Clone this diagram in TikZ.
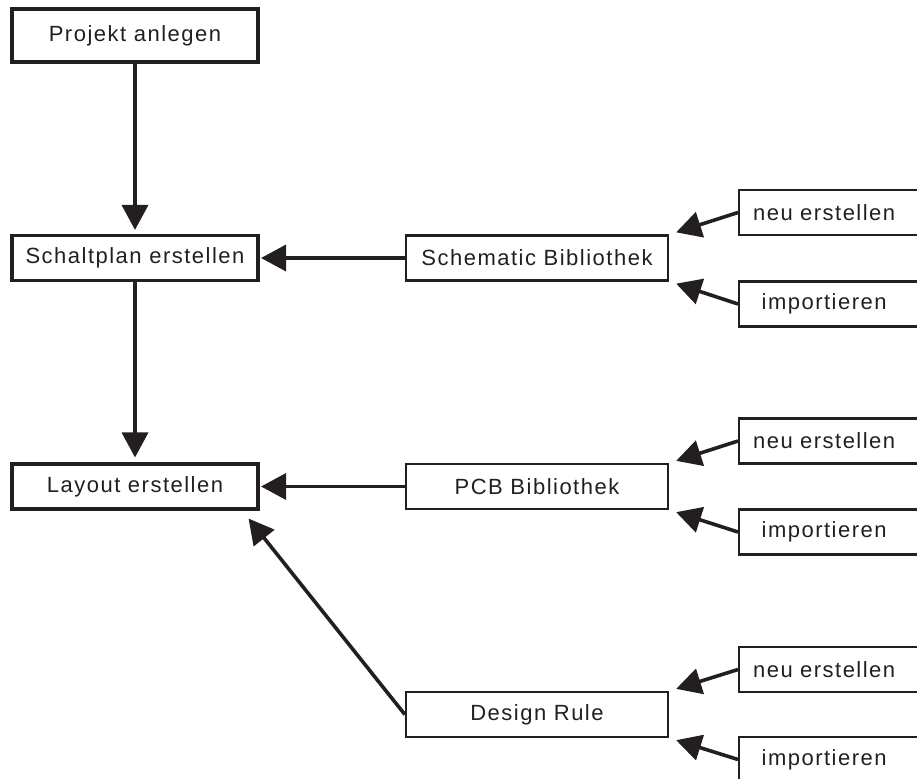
\documentclass[tikz,border=0pt]{standalone}
\usepackage{fontspec}
\setmainfont{Liberation Sans}[LetterSpace=6.8]
\usetikzlibrary{arrows.meta,calc}
\definecolor{ink}{RGB}{35,31,32}

\begin{document}
\begin{tikzpicture}[x=1pt,y=-1pt,
  box/.style={draw=ink,line width=3.1pt,text=ink,minimum height=45pt,inner sep=0pt,font=\fontsize{22}{26}\selectfont},
  main/.style={box,minimum width=246pt},
  lib/.style={box,line width=2.3pt,minimum width=262pt},
  side/.style={box,line width=2.3pt,anchor=west,text width=200pt,align=left},
  arr/.style={draw=ink,line width=3.6pt,-{Triangle[length=25pt,width=26pt]}}]

  \useasboundingbox (0,0) rectangle (917,778);

  % main flow
  \node[main,minimum height=53pt] (Proj) at (135,35.5) {Projekt anlegen};
  \node[main] (Schalt) at (135,258) {Schaltplan erstellen};
  \node[main] (Layout) at (135,486.5) {Layout erstellen};

  % libraries
  \node[lib] (SchemBib) at (537,258) {Schematic Bibliothek};
  \node[lib] (PcbBib) at (537,486.5) {PCB Bibliothek};
  \node[lib] (DesRule) at (537,714.5) {Design Rule};

  % sources
  \node[side] (SchemNeu) at (738,212.5) {\makebox[170pt]{neu erstellen}};
  \node[side] (SchemImp) at (738,304) {\makebox[170pt]{importieren}};
  \node[side] (PcbNeu) at (738,441) {\makebox[170pt]{neu erstellen}};
  \node[side] (PcbImp) at (738,532) {\makebox[170pt]{importieren}};
  \node[side] (DesNeu) at (738,669.5) {\makebox[170pt]{neu erstellen}};
  \node[side] (DesImp) at (738,759.5) {\makebox[170pt]{importieren}};

  \coordinate (SchemNeuTip) at ($(SchemBib.north east)+(7,-2)$);
  \coordinate (SchemImpTip) at ($(SchemBib.south east)+(7,2)$);
  \coordinate (PcbNeuTip) at ($(PcbBib.north east)+(7,-2)$);
  \coordinate (PcbImpTip) at ($(PcbBib.south east)+(7,2)$);
  \coordinate (DesNeuTip) at ($(DesRule.north east)+(7,-2)$);
  \coordinate (DesImpTip) at ($(DesRule.south east)+(7,2)$);
  \coordinate (LayTip) at ($(Layout.south east)+(-11,8)$);

  \draw[arr,shorten >=4pt] (Proj) -- (Schalt);
  \draw[arr,shorten >=5pt] (Schalt) -- (Layout);
  \draw[arr,shorten >=1.5pt] (SchemBib) -- (Schalt);
  \draw[arr,shorten >=1.5pt] (PcbBib) -- (Layout);
  \draw[arr] (DesRule.west) -- (LayTip);

  \draw[arr] (SchemNeu.west) -- (SchemNeuTip);
  \draw[arr] (SchemImp.west) -- (SchemImpTip);
  \draw[arr] (PcbNeu.west) -- (PcbNeuTip);
  \draw[arr] (PcbImp.west) -- (PcbImpTip);
  \draw[arr] (DesNeu.west) -- (DesNeuTip);
  \draw[arr] (DesImp.west) -- (DesImpTip);
\end{tikzpicture}
\end{document}
